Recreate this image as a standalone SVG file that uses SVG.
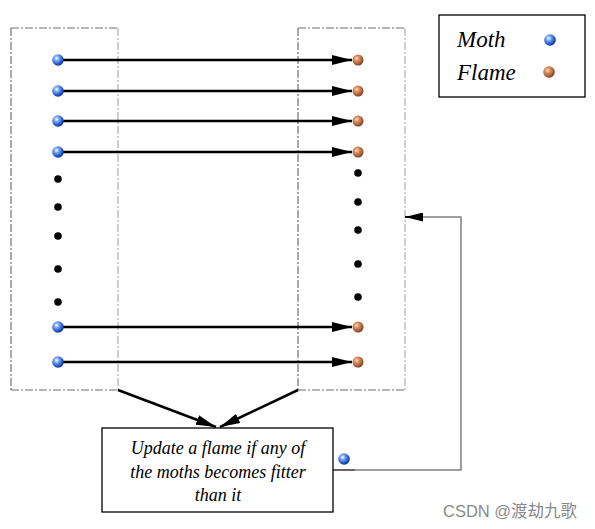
<svg xmlns="http://www.w3.org/2000/svg" width="595" height="529" viewBox="0 0 595 529">
<defs>
<radialGradient id="gBlue" cx="0.38" cy="0.35" r="0.7">
<stop offset="0" stop-color="#ffffff"/>
<stop offset="0.3" stop-color="#7aa8f0"/>
<stop offset="0.75" stop-color="#1c4fc8"/>
<stop offset="1" stop-color="#0a2a80"/>
</radialGradient>
<radialGradient id="gCopper" cx="0.38" cy="0.35" r="0.7">
<stop offset="0" stop-color="#ffd9bf"/>
<stop offset="0.35" stop-color="#d98a5c"/>
<stop offset="0.8" stop-color="#9a5530"/>
<stop offset="1" stop-color="#5a3018"/>
</radialGradient>
<marker id="arr" viewBox="0 0 20 10" refX="20" refY="5" markerWidth="20" markerHeight="10" markerUnits="userSpaceOnUse" orient="auto">
<path d="M0,0 L20,5 L0,10 Z" fill="#000"/>
</marker>
<marker id="arr2" viewBox="0 0 20 10" refX="20" refY="5" markerWidth="18" markerHeight="9" markerUnits="userSpaceOnUse" orient="auto">
<path d="M0,0 L20,5 L0,10 Z" fill="#000"/>
</marker>
</defs>
<style>
.box{fill:none;stroke:#707070;stroke-width:1.2;stroke-dasharray:8,2,2,2}
.boxl{fill:none;stroke:#c0c0c0;stroke-width:1.5;stroke-dasharray:8,2,2,2}
.moth{fill:url(#gBlue)}
.flame{fill:url(#gCopper)}
.dot{fill:#000}
.conn{stroke:#000;stroke-width:2.5;fill:none}
.txt{font-family:"Liberation Serif",serif;font-style:italic;fill:#000}
</style>
<rect width="595" height="529" fill="#fff"/>
<g id="moth-group">
<line class="box" x1="11" y1="28" x2="118" y2="28"/>
<line class="box" x1="11" y1="28" x2="11" y2="390"/>
<line class="box" x1="11" y1="390" x2="118" y2="390"/>
<line class="boxl" x1="118" y1="28" x2="118" y2="390"/>
</g>
<g id="flame-group">
<line class="box" x1="298" y1="28" x2="405" y2="28"/>
<line class="box" x1="298" y1="28" x2="298" y2="390"/>
<line class="box" x1="298" y1="390" x2="405" y2="390"/>
<line class="boxl" x1="405" y1="28" x2="405" y2="390"/>
</g>
<g id="connectors">
<line class="conn" x1="63" y1="60" x2="352" y2="60" marker-end="url(#arr)"/>
<line class="conn" x1="63" y1="91" x2="352" y2="91" marker-end="url(#arr)"/>
<line class="conn" x1="63" y1="121" x2="352" y2="121" marker-end="url(#arr)"/>
<line class="conn" x1="63" y1="152" x2="352" y2="152" marker-end="url(#arr)"/>
<line class="conn" x1="63" y1="327" x2="352" y2="327" marker-end="url(#arr)"/>
<line class="conn" x1="63" y1="362" x2="352" y2="362" marker-end="url(#arr)"/>
<line class="conn" x1="118" y1="390" x2="216" y2="427" marker-end="url(#arr)"/>
<line class="conn" x1="298" y1="390" x2="220" y2="427" marker-end="url(#arr)"/>
<line x1="333" y1="470" x2="355" y2="470" stroke="#000" stroke-width="1.2"/>
<polyline points="355,470 461,470 461,217 420,217" fill="none" stroke="#808080" stroke-width="1.5"/>
<line x1="422" y1="217" x2="405" y2="217" stroke="#000" stroke-width="1.8" marker-end="url(#arr2)"/>
</g>
<g id="moths">
<circle class="moth" cx="58" cy="60" r="5.8"/>
<circle class="moth" cx="58" cy="91" r="5.8"/>
<circle class="moth" cx="58" cy="121" r="5.8"/>
<circle class="moth" cx="58" cy="152" r="5.8"/>
<circle class="moth" cx="58" cy="327" r="5.8"/>
<circle class="moth" cx="58" cy="362" r="5.8"/>
<circle class="dot" cx="58" cy="179" r="3.8"/>
<circle class="dot" cx="58" cy="207" r="3.8"/>
<circle class="dot" cx="58" cy="236" r="3.8"/>
<circle class="dot" cx="58" cy="269" r="3.8"/>
<circle class="dot" cx="58" cy="302" r="3.8"/>
</g>
<g id="flames">
<circle class="flame" cx="358" cy="60" r="5.5"/>
<circle class="flame" cx="358" cy="91" r="5.5"/>
<circle class="flame" cx="358" cy="121" r="5.5"/>
<circle class="flame" cx="358" cy="152" r="5.5"/>
<circle class="flame" cx="358" cy="327" r="5.5"/>
<circle class="flame" cx="358" cy="362" r="5.5"/>
<circle class="dot" cx="358" cy="173" r="3.8"/>
<circle class="dot" cx="358" cy="202" r="3.8"/>
<circle class="dot" cx="358" cy="230" r="3.8"/>
<circle class="dot" cx="358" cy="264" r="3.8"/>
<circle class="dot" cx="358" cy="297" r="3.8"/>
</g>
<g id="update-box">
<rect x="102" y="428" width="231" height="84" fill="#fff" stroke="#000" stroke-width="1.3"/>
<text class="txt" font-size="18" text-anchor="middle" x="218" y="454">Update a flame if any of</text>
<text class="txt" font-size="18" text-anchor="middle" x="218" y="478">the moths becomes fitter</text>
<text class="txt" font-size="18" text-anchor="middle" x="218" y="501">than it</text>
<circle class="moth" cx="344" cy="459" r="5.8"/>
</g>
<g id="legend">
<rect x="439" y="15" width="146" height="82" fill="#fff" stroke="#000" stroke-width="1.3"/>
<text class="txt" font-size="23" x="457" y="47">Moth</text>
<text class="txt" font-size="23" x="457" y="80">Flame</text>
<circle class="moth" cx="550" cy="40" r="5.8"/>
<circle class="flame" cx="549" cy="72" r="5.8"/>
</g>
<text x="443" y="517" font-family="'Liberation Sans','Noto Sans CJK SC',sans-serif" font-size="16.5" fill="#8a8a8a">CSDN @渡劫九歌</text>
</svg>
